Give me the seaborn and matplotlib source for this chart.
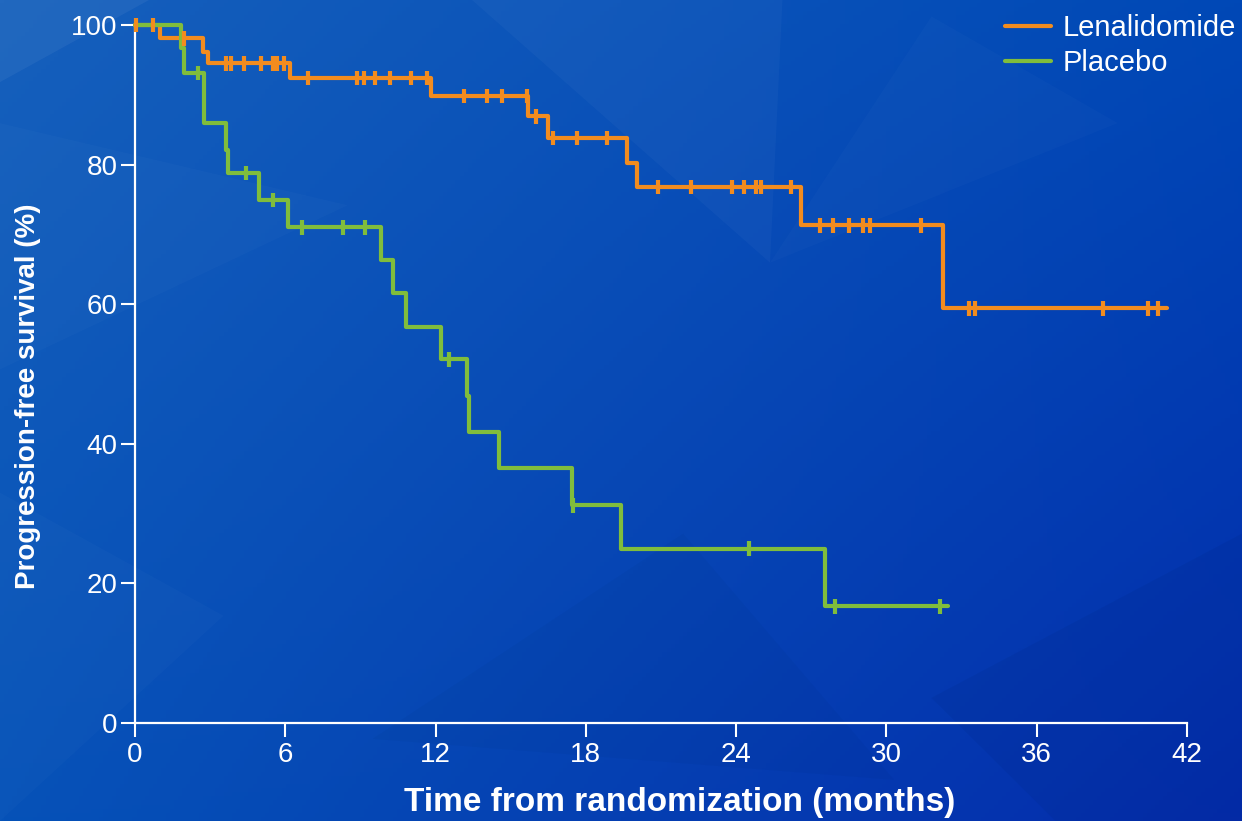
import numpy as np
import pandas as pd
import matplotlib
matplotlib.use("Agg")
import matplotlib.pyplot as plt
from matplotlib.lines import Line2D
from matplotlib.patches import Polygon
import seaborn as sns

# ==== Data ====
arms = ["Lenalidomide", "Placebo"]

len_event_times = [1.0, 2.7, 2.9, 6.2, 11.8, 15.7, 16.5, 19.65, 20.05, 26.6, 32.25]
len_event_surv = [98.1, 96.2, 94.5, 92.4, 89.8, 86.9, 83.8, 80.3, 76.8, 71.3, 59.4]
len_last_time = 41.2
len_censor = [0.05, 0.7, 1.95, 3.65, 3.85, 4.35, 5.05, 5.5, 5.65, 5.95, 6.9, 8.85,
              9.15, 9.6, 10.2, 11.0, 11.65, 13.15, 14.05, 14.65, 15.65, 16.0, 16.7,
              17.65, 18.85, 20.9, 22.2, 23.85, 24.3, 24.8, 25.0, 26.2, 27.35, 27.85,
              28.5, 29.05, 29.35, 31.4, 33.3, 33.55, 38.65, 40.45, 40.85]

pla_event_times = [1.85, 1.95, 2.75, 3.65, 3.72, 4.97, 6.12, 9.82, 10.3, 10.8,
                   12.2, 13.27, 13.35, 14.55, 17.45, 19.4, 27.55]
pla_event_surv = [96.7, 93.1, 85.9, 82.1, 78.8, 74.9, 71.0, 66.3, 61.6, 56.8,
                  52.1, 46.8, 41.7, 36.5, 31.2, 25.0, 16.7]
pla_last_time = 32.45
pla_censor = [2.5, 4.45, 5.5, 6.65, 8.3, 9.2, 12.55, 17.5, 24.5, 27.95, 32.15]

x_ticks = [0, 6, 12, 18, 24, 30, 36, 42]
y_ticks = [0, 20, 40, 60, 80, 100]

colors = {"Lenalidomide": "#f28c1f", "Placebo": "#80bd3c"}


# ==== Build frames ====
def step_frame(arm, times, surv, last):
    x = [0.0] + times + [last]
    y = [100.0] + surv + [surv[-1]]
    return pd.DataFrame({"time": x, "pfs": y, "arm": arm})


def censor_frame(arm, censor, times, surv):
    idx = np.searchsorted(times, censor, side="right")
    lev = np.concatenate([[100.0], surv])[idx]
    return pd.DataFrame({"time": censor, "pfs": lev, "arm": arm})


curves = pd.concat([
    step_frame("Lenalidomide", len_event_times, len_event_surv, len_last_time),
    step_frame("Placebo", pla_event_times, pla_event_surv, pla_last_time),
], ignore_index=True)

marks = pd.concat([
    censor_frame("Lenalidomide", len_censor, len_event_times, len_event_surv),
    censor_frame("Placebo", pla_censor, pla_event_times, pla_event_surv),
], ignore_index=True)

# ==== Figure ====
sns.set_style("white")
plt.rcParams["font.family"] = ["Liberation Sans", "DejaVu Sans"]

fig = plt.figure(figsize=(12.42, 8.21), dpi=100)

# background: blue gradient with faint facets
bg = fig.add_axes([0, 0, 1, 1], zorder=-1)
gx, gy = np.meshgrid(np.linspace(0, 1, 300), np.linspace(0, 1, 200))
tl = np.array([22, 96, 188]) / 255
tr = np.array([0, 72, 182]) / 255
bl = np.array([6, 82, 184]) / 255
br = np.array([4, 44, 172]) / 255
img = ((1 - gx)[..., None] * (1 - gy)[..., None] * tl + gx[..., None] * (1 - gy)[..., None] * tr
       + (1 - gx)[..., None] * gy[..., None] * bl + gx[..., None] * gy[..., None] * br)
bg.imshow(img, extent=[0, 1, 0, 1], aspect="auto", origin="upper")
facets = [
    ([(0, 1), (0.12, 1), (0, 0.9)], "white", 0.05),
    ([(0.0, 0.55), (0.28, 0.75), (0.0, 0.85)], "white", 0.02),
    ([(0.38, 1), (0.63, 1), (0.62, 0.68)], "white", 0.03),
    ([(0.62, 0.68), (0.9, 0.85), (0.75, 0.98)], "white", 0.02),
    ([(0.3, 0.1), (0.55, 0.35), (0.72, 0.05)], "black", 0.025),
    ([(0.75, 0.15), (1, 0.35), (1, 0.0), (0.85, 0.0)], "black", 0.04),
    ([(0.0, 0.0), (0.18, 0.25), (0.0, 0.4)], "white", 0.02),
]
for pts, col, a in facets:
    bg.add_patch(Polygon(pts, closed=True, color=col, alpha=a, lw=0))
bg.set_xlim(0, 1)
bg.set_ylim(0, 1)
bg.axis("off")

ax = fig.add_axes([135 / 1242, 98 / 821, 1052 / 1242, 698 / 821])
ax.set_facecolor("none")

sns.lineplot(data=curves, x="time", y="pfs", hue="arm", hue_order=arms,
             palette=colors, estimator=None, sort=False, drawstyle="steps-post",
             linewidth=3.0, legend=False, ax=ax, clip_on=False, zorder=3)
sns.scatterplot(data=marks, x="time", y="pfs", hue="arm", hue_order=arms,
                palette=colors, marker="|", s=110, linewidth=3.0, legend=False,
                ax=ax, clip_on=False, zorder=4)

ax.set_xlim(0, 42)
ax.set_ylim(0, 100)
ax.set_xticks(x_ticks)
ax.set_yticks(y_ticks)

for side in ["top", "right"]:
    ax.spines[side].set_visible(False)
for side in ["left", "bottom"]:
    ax.spines[side].set_color("white")
    ax.spines[side].set_linewidth(1.6)

ax.tick_params(axis="x", colors="white", length=10, width=1.5, pad=3.5, labelsize=20,
               direction="out", bottom=True)
ax.tick_params(axis="y", colors="white", length=10, width=1.5, pad=2.5, labelsize=20,
               direction="out", left=True)

ax.set_xlabel("Time from randomization (months)", fontsize=24, fontweight="bold",
              color="white")
ax.set_ylabel("Progression-free survival (%)", fontsize=20, fontweight="bold",
              color="white")
ax.xaxis.set_label_coords(0.518, -0.1146)
ax.xaxis.label.set_va("center")
ax.yaxis.set_label_coords(-0.1017, 0.4685)
ax.yaxis.label.set_va("center")
ax.yaxis.label.set_rotation_mode("anchor")

handles = [Line2D([0], [0], color=colors[a], lw=3.0) for a in arms]
fig.legend(handles, arms, loc="upper right", bbox_to_anchor=(1.012, 1.008),
           frameon=False, fontsize=21, labelcolor="white", handlelength=1.6,
           handletextpad=0.4, labelspacing=0.25, borderpad=0.2)

fig.savefig("out.png", dpi=100)
